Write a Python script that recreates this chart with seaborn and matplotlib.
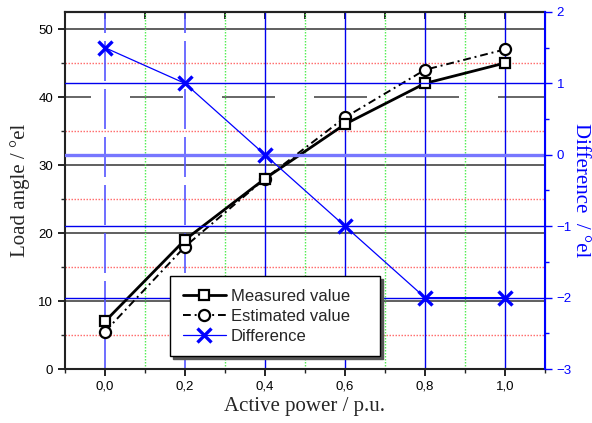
import matplotlib
matplotlib.use("Agg")
import matplotlib.pyplot as plt
import seaborn as sns
import numpy as np
import pandas as pd
from matplotlib.ticker import FixedLocator

# ---- data ----
power = [0.0, 0.2, 0.4, 0.6, 0.8, 1.0]
measured = [7, 19, 28, 36, 42, 45]
estimated = [5.5, 18, 28, 37, 44, 47]
difference = [1.5, 1, 0, -1, -2, -2]

x_ticks = [0.0, 0.2, 0.4, 0.6, 0.8, 1.0]
x_tick_labels = ["0,0", "0,2", "0,4", "0,6", "0,8", "1,0"]
x_minor = [-0.1, 0.1, 0.3, 0.5, 0.7, 0.9, 1.1]
y_ticks = [0, 10, 20, 30, 40, 50]
y_minor = [5, 15, 25, 35, 45]
r_ticks = [-3, -2, -1, 0, 1, 2]
r_minor = [-2.5, -1.5, -0.5, 0.5, 1.5]

df = pd.DataFrame({"p": power, "m": measured, "e": estimated, "d": difference})

sns.set_style("ticks")
plt.rcParams["font.family"] = ["Liberation Sans", "DejaVu Sans"]

fig = plt.figure(figsize=(5.92, 4.23), dpi=100)
ax = fig.add_axes([65 / 592, 54 / 423, 480 / 592, 357 / 423])
ax2 = ax.twinx()

ax.set_xlim(-0.1, 1.1)
ax.set_ylim(0, 52.5)
ax2.set_ylim(-3, 2)
ax2.set_xlim(-0.1, 1.1)


def pxdash(lw, offset_px, pattern_px):
    f = 0.72 / lw
    return (offset_px * f, tuple(p * f for p in pattern_px))


RED = "#ff7070"
GREEN = "#55ee55"

# ---- grid lines ----
for v in y_ticks:
    if v == 40:
        ax.axhline(v, color="#666666", lw=1.4, ls=pxdash(1.4, 27, (53, 39)), zorder=1)
    elif v == 0:
        continue
    else:
        ax.axhline(v, color="#444444", lw=1.2, zorder=1)
for v in y_minor:
    if v == 25:
        ax.axhline(v, color=RED, lw=1.0,
                   ls=pxdash(1.0, 27, (1.5, 1.5) * 17 + (1.5, 40.5)), zorder=1)
    else:
        ax.axhline(v, color=RED, lw=1.0, ls=pxdash(1.0, 0, (1.5, 1.5)), zorder=1)
for v in x_ticks:
    if v in (0.0, 0.2):
        ax.axvline(v, color="#5555ff", lw=1.2, ls=pxdash(1.2, 0, (40, 8)), zorder=1)
    else:
        ax.axvline(v, color="#0000ee", lw=1.0, zorder=1)
for v in x_minor[1:-1]:
    if v >= 0.5:
        ax.axvline(v, color=GREEN, lw=1.0,
                   ls=pxdash(1.0, 0, (1.5, 1.5) * 22 + (1.5, 12)), zorder=1)
    else:
        ax.axvline(v, color=GREEN, lw=1.0, ls=pxdash(1.0, 0, (1.5, 1.5)), zorder=1)
for v in r_ticks[1:-1]:
    if v == 0:
        ax2.axhline(v, color="#7777ff", lw=2.4, zorder=1)
    else:
        ax2.axhline(v, color="#0000ee", lw=1.0, zorder=1)

# ---- data lines ----
sns.lineplot(data=df, x="p", y="m", ax=ax, color="black", linewidth=2,
             marker="s", markersize=7, markerfacecolor="white",
             markeredgecolor="black", markeredgewidth=1.6,
             label="Measured value", zorder=5, legend=False)
sns.lineplot(data=df, x="p", y="e", ax=ax, color="black", linewidth=1.4,
             marker="o", markersize=8, markerfacecolor="white",
             markeredgecolor="black", markeredgewidth=1.6,
             label="Estimated value", zorder=4, legend=False)
ax.lines[-1].set_dashes((4, 2, 1, 2))
sns.lineplot(data=df, x="p", y="d", ax=ax2, color="#0000ff", linewidth=0.9,
             marker="x", markersize=10, markeredgewidth=2.4,
             markeredgecolor="#0000ff",
             label="Difference", zorder=5, legend=False)

# ---- axes styling ----
ax.set_xticks(x_ticks)
ax.set_xticklabels(x_tick_labels)
ax.xaxis.set_minor_locator(FixedLocator(x_minor))
ax.set_yticks(y_ticks)
ax.yaxis.set_minor_locator(FixedLocator(y_minor))
ax.tick_params(axis="both", which="major", direction="out", length=5, width=1.2,
               labelsize=9.5, colors="black", top=False)
ax.tick_params(axis="both", which="minor", direction="out", length=3, width=1.0, top=False)
ax.tick_params(axis="y", which="both", right=False)
for s in ["left", "bottom", "top"]:
    ax.spines[s].set_linewidth(1.5)
    ax.spines[s].set_color("#222222")
    ax.spines[s].set_visible(True)

sec = ax.secondary_xaxis("top")
sec.set_xticks(x_ticks)
sec.xaxis.set_minor_locator(FixedLocator(x_minor))
sec.tick_params(axis="x", which="both", direction="in", length=5, width=1.2,
                labeltop=False, colors="black")
sec.spines["top"].set_linewidth(1.5)
sec.spines["top"].set_color("#222222")

ax2.set_yticks(r_ticks)
ax2.yaxis.set_minor_locator(FixedLocator(r_minor))
ax2.tick_params(axis="y", which="major", direction="out", length=5, width=1.0,
                labelsize=9.5, colors="#0000ff")
ax2.tick_params(axis="y", which="minor", direction="out", length=3, width=1.0, colors="#0000ff")
ax2.spines["right"].set_color("#0000ff")
ax2.spines["right"].set_linewidth(1.5)
ax2.spines["right"].set_visible(True)
ax2.spines["left"].set_visible(False)
ax2.spines["top"].set_visible(False)
ax2.spines["bottom"].set_visible(False)

serif = ["Liberation Serif", "DejaVu Serif"]
ax.set_xlabel("Active power / p.u.", fontsize=15, family=serif, labelpad=3)
ax.set_ylabel("Load angle / °el", fontsize=15, family=serif, labelpad=6)
ax2.set_ylabel("Difference  / °el", fontsize=15, family=serif, color="#0000ff",
               rotation=-90, labelpad=13)

# ---- legend ----
h1, l1 = ax.get_legend_handles_labels()
h2, l2 = ax2.get_legend_handles_labels()
leg = ax2.legend(h1 + h2, l1 + l2, loc="upper left",
                 bbox_to_anchor=(0.219, 0.26, 0.437, 0.0), mode="expand",
                 borderaxespad=0, fontsize=12, frameon=True, fancybox=False,
                 shadow={"ox": 2, "oy": -2, "color": "#555555", "alpha": 1},
                 edgecolor="black", framealpha=1, handlelength=2.6,
                 handletextpad=0.3, borderpad=0.75, labelspacing=0.3)
leg.get_frame().set_linewidth(1.0)
leg.set_zorder(10)

fig.savefig("out.png", dpi=100)
